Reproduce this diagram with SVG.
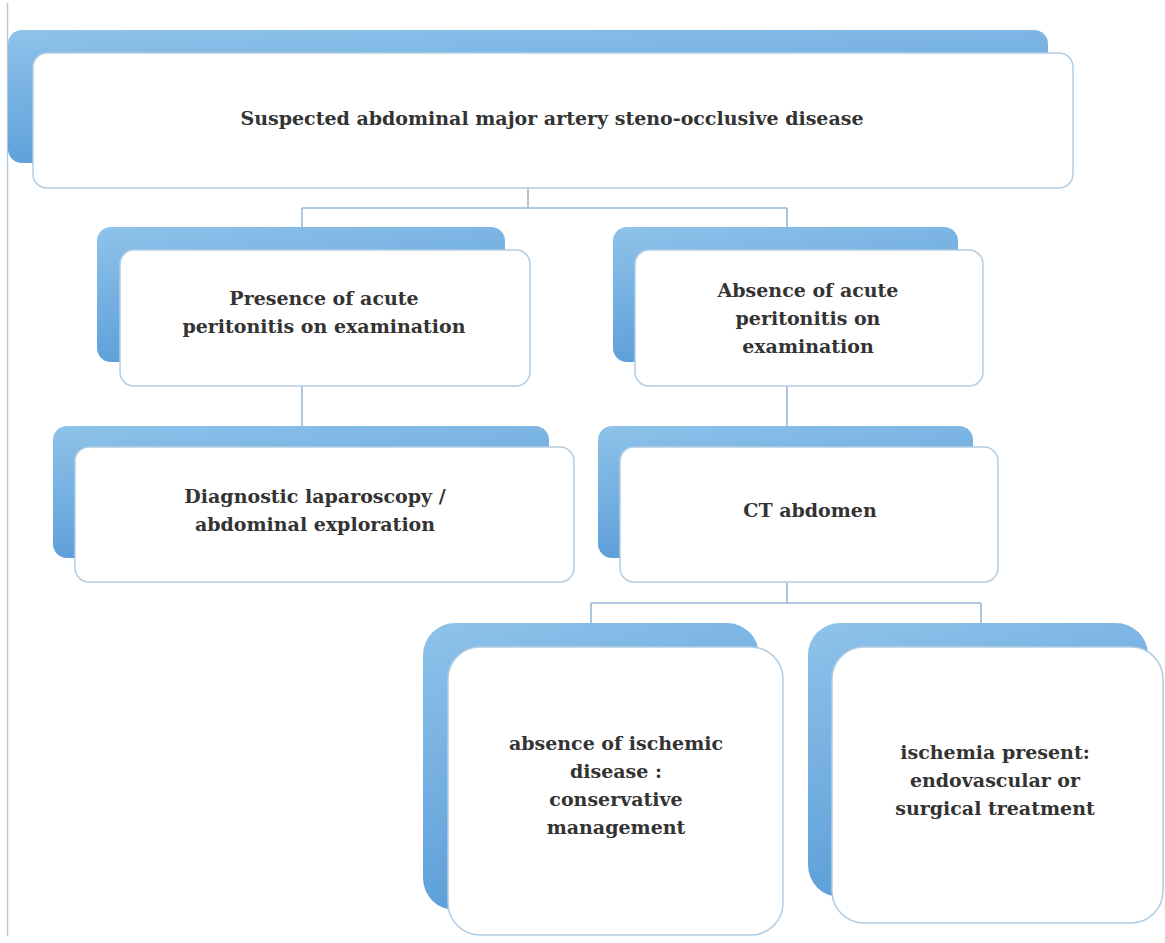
<svg xmlns="http://www.w3.org/2000/svg" width="1165" height="943" viewBox="0 0 1165 943">
<defs>
<linearGradient id="bg" x1="0" y1="0" x2="0.35" y2="1">
<stop offset="0" stop-color="#8ec3ea"/>
<stop offset="1" stop-color="#5a9cd8"/>
</linearGradient>
<style>
.back{fill:url(#bg);}
.front{fill:#ffffff;stroke:#b3cde2;stroke-width:1.5;}
.conn{fill:none;stroke:#9ab8d2;stroke-width:1.6;}
text{font-family:"DejaVu Serif","Liberation Serif",serif;font-weight:bold;font-size:19px;fill:#333333;text-anchor:middle;}
</style>
</defs>
<rect width="1165" height="943" fill="#ffffff"/>
<line x1="7.5" y1="3" x2="7.5" y2="936" stroke="#b4c9da" stroke-width="1.5"/>
<g id="connectors">
<path class="conn" d="M528,188 V208 M302,208 H787 M302,208 V228 M787,208 V228"/>
<path class="conn" d="M302,386 V427"/>
<path class="conn" d="M787,386 V427"/>
<path class="conn" d="M787,582 V603 M591,603 H981 M591,603 V623 M981,603 V623"/>
</g>
<g id="n1">
<rect class="back" x="8" y="30" width="1040" height="133" rx="14"/>
<rect class="front" x="33" y="53" width="1040" height="135" rx="14"/>
<text x="552" y="125">Suspected abdominal major artery steno-occlusive disease</text>
</g>
<g id="n2">
<rect class="back" x="97" y="227" width="408" height="135" rx="14"/>
<rect class="front" x="120" y="250" width="410" height="136" rx="14"/>
<text x="324" y="305">Presence of acute</text>
<text x="324" y="333">peritonitis on examination</text>
</g>
<g id="n3">
<rect class="back" x="613" y="227" width="345" height="135" rx="14"/>
<rect class="front" x="635" y="250" width="348" height="136" rx="14"/>
<text x="808" y="297">Absence of acute</text>
<text x="808" y="325">peritonitis on</text>
<text x="808" y="353">examination</text>
</g>
<g id="n4">
<rect class="back" x="53" y="426" width="496" height="132" rx="14"/>
<rect class="front" x="75" y="447" width="499" height="135" rx="14"/>
<text x="315" y="503">Diagnostic laparoscopy /</text>
<text x="315" y="531">abdominal exploration</text>
</g>
<g id="n5">
<rect class="back" x="598" y="426" width="375" height="132" rx="14"/>
<rect class="front" x="620" y="447" width="378" height="135" rx="14"/>
<text x="810" y="517">CT abdomen</text>
</g>
<g id="n6">
<rect class="back" x="423" y="623" width="336" height="287" rx="32"/>
<rect class="front" x="448" y="647" width="335" height="288" rx="32"/>
<text x="616" y="750">absence of ischemic</text>
<text x="616" y="778">disease :</text>
<text x="616" y="806">conservative</text>
<text x="616" y="834">management</text>
</g>
<g id="n7">
<rect class="back" x="808" y="623" width="340" height="274" rx="32"/>
<rect class="front" x="832" y="647" width="331" height="276" rx="32"/>
<text x="995" y="759">ischemia present:</text>
<text x="995" y="787">endovascular or</text>
<text x="995" y="815">surgical treatment</text>
</g>
</svg>
